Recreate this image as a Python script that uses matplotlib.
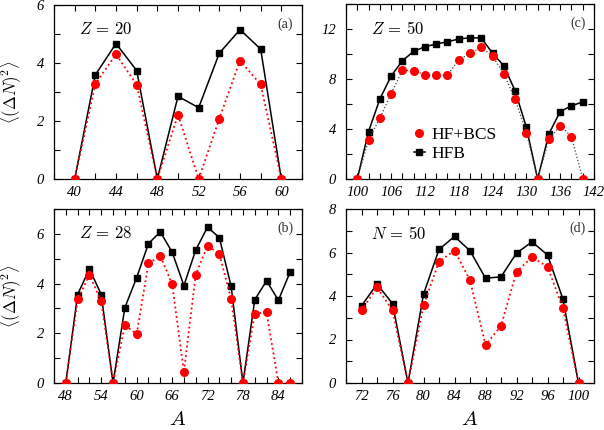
import numpy as np
import matplotlib
matplotlib.use('Agg')
import matplotlib.pyplot as plt
from matplotlib.ticker import MultipleLocator

plt.rcParams['mathtext.fontset'] = 'cm'
plt.rcParams['font.family'] = 'Liberation Serif'

# panel (a) Z=20
A_a = [40, 42, 44, 46, 48, 50, 52, 54, 56, 58, 60]
hfb_a = [0, 3.59, 4.67, 3.74, 0, 2.85, 2.46, 4.34, 5.15, 4.48, 0]
bcs_a = [0, 3.28, 4.30, 3.25, 0, 2.22, 0, 2.08, 4.08, 3.26, 0]

# panel (b) Z=28
A_b = [48, 50, 52, 54, 56, 58, 60, 62, 64, 66, 68, 70, 72, 74, 76, 78, 80, 82, 84, 86]
hfb_b = [0, 3.56, 4.59, 3.56, 0, 3.03, 4.24, 5.61, 6.08, 5.27, 3.92, 5.35, 6.27, 5.85,
         3.89, 0, 3.35, 4.11, 3.33, 4.47]
bcs_b = [0, 3.36, 4.35, 3.28, 0, 2.32, 1.97, 4.81, 5.11, 4.00, 0.44, 4.36, 5.52, 5.20,
         3.37, 0, 2.79, 2.84, 0, 0]

# panel (c) Z=50
A_c = [100, 102, 104, 106, 108, 110, 112, 114, 116, 118, 120, 122, 124, 126, 128, 130,
       132, 134, 136, 138, 140]
hfb_c = [0, 3.80, 6.39, 8.23, 9.46, 10.21, 10.58, 10.80, 10.98, 11.20, 11.30, 11.28,
         10.07, 9.06, 7.06, 4.14, 0, 3.61, 5.40, 5.85, 6.17]
bcs_c = [0, 3.13, 4.86, 6.81, 8.71, 8.66, 8.36, 8.31, 8.31, 9.54, 10.05, 10.53, 9.81,
         8.42, 6.39, 3.71, 0, 3.18, 4.28, 3.39, 0]

# panel (d) N=50
A_d = [72, 74, 76, 78, 80, 82, 84, 86, 88, 90, 92, 94, 96, 98, 100]
hfb_d = [3.55, 4.55, 3.65, 0, 4.08, 6.14, 6.74, 6.08, 4.82, 4.88, 5.97, 6.49, 5.89, 3.85, 0]
bcs_d = [3.34, 4.40, 3.34, 0, 3.57, 5.58, 6.09, 4.72, 1.75, 2.62, 5.12, 5.78, 5.35, 3.43, 0]

# labelled ticks
xt_a = [40, 44, 48, 52, 56, 60]
xt_b = [48, 54, 60, 66, 72, 78, 84]
xt_c = [100, 106, 112, 118, 124, 130, 136, 142]
xt_d = [72, 76, 80, 84, 88, 92, 96, 100]
yt_a = [0, 2, 4, 6]
yt_b = [0, 2, 4, 6]
yt_c = [0, 4, 8, 12]
yt_d = [0, 2, 4, 6, 8]

fig = plt.figure(figsize=(6.04, 4.30), dpi=100)
W, H = 604.0, 430.0

def mkax(l, r, t, b):
    return fig.add_axes([l / W, 1 - b / H, (r - l) / W, (b - t) / H])

axa = mkax(54, 302, 5, 179)
axc = mkax(346, 594, 4, 179)
axb = mkax(54, 302, 209, 383)
axd = mkax(346, 594, 209, 383)

panels = [
    (axa, A_a, hfb_a, bcs_a, (38, 62), (0, 6), xt_a, yt_a, 1, r'$Z\,=\,20$', '(a)', 'red'),
    (axb, A_b, hfb_b, bcs_b, (46, 88), (0, 7), xt_b, yt_b, 1, r'$Z\,=\,28$', '(b)', 'red'),
    (axc, A_c, hfb_c, bcs_c, (98, 142), (0, 14), xt_c, yt_c, 2, r'$Z\,=\,50$', '(c)', '#444444'),
    (axd, A_d, hfb_d, bcs_d, (70, 102), (0, 8), xt_d, yt_d, 1, r'$N\,=\,50$', '(d)', 'red'),
]

for ax, A, hfb, bcs, xl, yl, xt, yt, ymin, lab, tag, dcol in panels:
    ax.plot(A, hfb, color='black', lw=1.1, marker='s', ms=5, label='HFB', zorder=3)
    lw = 1.3 if dcol == 'red' else 0.9
    ax.plot(A, bcs, color=dcol, lw=lw, ls=':', zorder=4)
    ax.plot(A, bcs, color='red', lw=0, marker='o', ms=5.5, label='HF+BCS', zorder=4)
    ax.set_xticks(xt, labels=[str(v) for v in xt], fontstyle='italic', fontsize=10.5)
    ax.set_yticks(yt, labels=[str(v) for v in yt], fontstyle='italic', fontsize=10.5)
    ax.xaxis.set_minor_locator(MultipleLocator(2))
    ax.yaxis.set_minor_locator(MultipleLocator(ymin))
    ax.set_xlim(*xl)
    ax.set_ylim(*yl)
    ax.tick_params(which='both', direction='in', top=True, right=True, length=4.5, width=0.8)
    ax.tick_params(axis='x', which='major', pad=5)
    ax.tick_params(axis='y', which='major', pad=7)
    for s in ax.spines.values():
        s.set_linewidth(0.9)
    ax.text(0.1, 0.855, lab, transform=ax.transAxes, fontsize=12, va='center', ha='left')
    ax.text(0.965, 0.89, tag, transform=ax.transAxes, fontsize=10, va='center', ha='right',
            color='#333333')

for ax in (axa, axb):
    ax.set_ylabel(r'$\langle(\Delta N)^2\rangle$', fontsize=12)
    ax.yaxis.set_label_coords(-0.125, 0.5)
for ax in (axb, axd):
    ax.set_xlabel(r'$A$', fontsize=15)
    ax.xaxis.set_label_coords(0.5, -0.16)

h, l = axc.get_legend_handles_labels()
axc.legend([h[1], h[0]], [l[1], l[0]], loc='upper left', bbox_to_anchor=(0.24, 0.345),
           frameon=False, fontsize=12.5, handlelength=0.6, handletextpad=0.4,
           labelspacing=0.15, borderpad=0)

fig.savefig('out.png', dpi=100)
